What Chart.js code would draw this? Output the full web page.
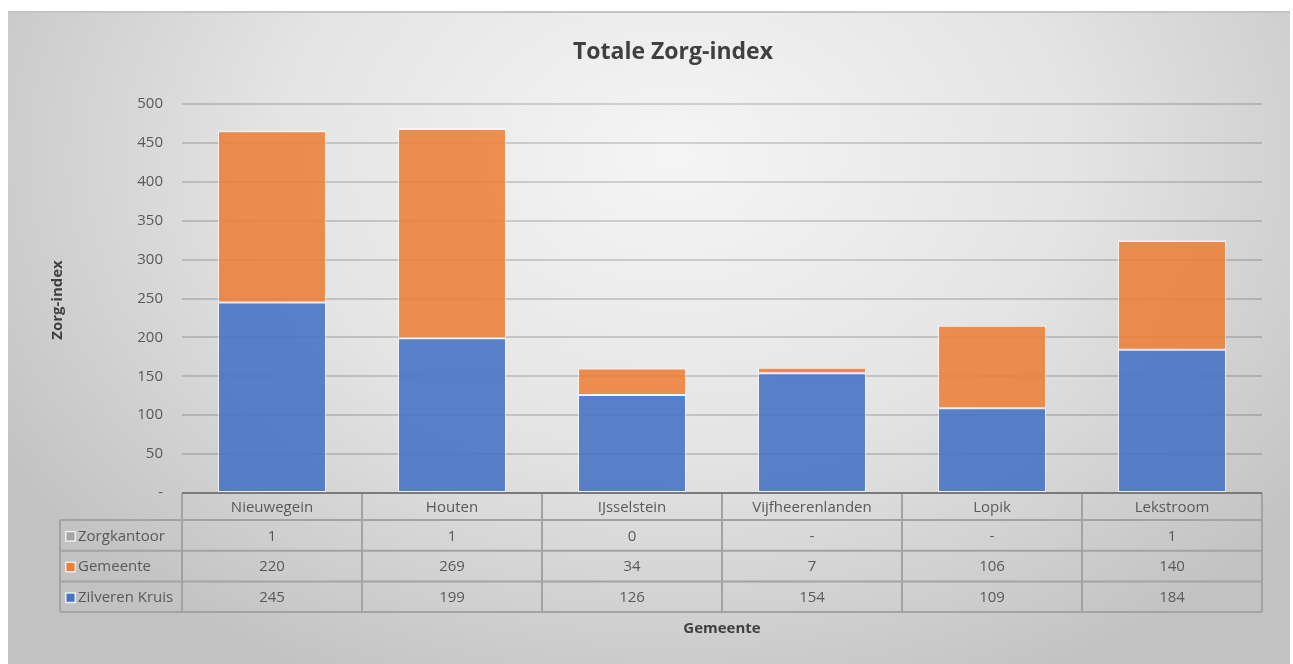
<!DOCTYPE html>
<html>
<head>
<meta charset="utf-8">
<script src="https://cdn.jsdelivr.net/npm/chart.js@4/dist/chart.umd.min.js"></script>
<style>
  html, body { margin: 0; padding: 0; background: #fff; }
  .frame {
    position: absolute; left: 8px; top: 11px; width: 1282px; height: 653px;
    background: radial-gradient(ellipse 62% 90% at 52% 22%, #f5f5f5 0%, #e4e4e4 50%, #c2c2c2 100%);
    border-top: 2px solid #c4c4c4;
  }
  .wrap { position: absolute; left: 0; top: 0; width: 1293px; height: 664px; }
</style>
</head>
<body>
<div class="frame"></div>
<div class="wrap"><canvas id="zorgChart"></canvas></div>
<script>
// ── Data ──
const gemeenten = ['Nieuwegein', 'Houten', 'IJsselstein', 'Vijfheerenlanden', 'Lopik', 'Lekstroom'];
const zilverenKruis = [245, 199, 126, 154, 109, 184];
const gemeente = [220, 269, 34, 7, 106, 140];
const zorgkantoor = [1, 1, 0.4, null, null, 1];
const yTicks = [0, 50, 100, 150, 200, 250, 300, 350, 400, 450, 500];

const FONT = "'Open Sans', 'Noto Sans', sans-serif";
const TEXT = '#595959';

function fmt(v) {
  return v === null || v === undefined ? '-' : String(Math.round(v));
}

// ── Title + data table under the plot ──
const tablePlugin = {
  id: 'dataTable',
  afterDraw(chart) {
    const { ctx, chartArea } = chart;
    const x = chart.scales.x;
    const n = gemeenten.length;
    const cw = (x.right - x.left) / n;
    const top = chartArea.bottom;
    const headH = 27, rowH = 30.7;
    const legLeft = 60;
    const rows = [...chart.data.datasets].reverse();

    ctx.save();
    // title
    ctx.fillStyle = '#404040';
    ctx.font = 'bold 23px ' + FONT;
    ctx.textAlign = 'center';
    ctx.textBaseline = 'middle';
    ctx.fillText('Totale Zorg-index', 673, 52);

    // table lines
    ctx.strokeStyle = '#a3a3a3';
    ctx.lineWidth = 2;
    const bottom = top + headH + rowH * rows.length;
    ctx.beginPath();
    for (let r = 1; r <= rows.length; r++) {
      const y = top + headH + rowH * (r - 1);
      ctx.moveTo(legLeft, y); ctx.lineTo(x.right, y);
    }
    ctx.moveTo(legLeft, bottom); ctx.lineTo(x.right, bottom);
    ctx.moveTo(legLeft, top + headH); ctx.lineTo(legLeft, bottom);
    for (let i = 0; i <= n; i++) {
      const xx = x.left + cw * i;
      ctx.moveTo(xx, top); ctx.lineTo(xx, bottom);
    }
    ctx.stroke();

    // axis line
    ctx.strokeStyle = '#7a7a7a';
    ctx.beginPath();
    ctx.moveTo(x.left, top); ctx.lineTo(x.right, top);
    ctx.stroke();

    ctx.font = '15px ' + FONT;
    ctx.fillStyle = TEXT;
    // header
    gemeenten.forEach((g, i) => {
      ctx.fillText(g, x.getPixelForValue(i), top + headH / 2 + 1);
    });
    // rows
    rows.forEach((ds, r) => {
      const cy = top + headH + rowH * r + rowH / 2 + 1;
      ctx.fillStyle = 'rgba(255,255,255,0.7)';
      ctx.fillRect(legLeft + 5, cy - 5.5, 11, 11);
      ctx.fillStyle = ds.swatch;
      ctx.fillRect(legLeft + 6.5, cy - 4, 8, 8);
      ctx.fillStyle = TEXT;
      ctx.textAlign = 'left';
      ctx.fillText(ds.label, legLeft + 18, cy);
      ctx.textAlign = 'center';
      ds.data.forEach((v, i) => ctx.fillText(fmt(v), x.getPixelForValue(i), cy));
    });

    // axis titles
    ctx.fillStyle = '#404040';
    ctx.font = 'bold 15px ' + FONT;
    ctx.fillText('Gemeente', (x.left + x.right) / 2, 629);
    ctx.translate(58, 300);
    ctx.rotate(-Math.PI / 2);
    ctx.fillText('Zorg-index', 0, 0);
    ctx.restore();
  }
};

new Chart(document.getElementById('zorgChart'), {
  type: 'bar',
  data: {
    labels: gemeenten,
    datasets: [
      { label: 'Zilveren Kruis', data: zilverenKruis, backgroundColor: 'rgba(68,114,196,0.88)', swatch: '#4472c4' },
      { label: 'Gemeente', data: gemeente, backgroundColor: 'rgba(237,125,49,0.85)', swatch: '#ed7d31' },
      { label: 'Zorgkantoor', data: zorgkantoor, backgroundColor: 'rgba(165,165,165,0.9)', swatch: '#a5a5a5' }
    ]
  },
  options: {
    responsive: true,
    maintainAspectRatio: false,
    animation: false,
    layout: { padding: { left: 0, right: 31, top: 104, bottom: 0 } },
    datasets: {
      bar: {
        categoryPercentage: 0.6,
        barPercentage: 1,
        borderColor: 'rgba(255,255,255,0.65)',
        borderWidth: 1,
        borderSkipped: false
      }
    },
    plugins: {
      legend: { display: false },
      title: { display: false },
      tooltip: { enabled: false }
    },
    scales: {
      x: {
        stacked: true,
        grid: { display: false, drawTicks: false },
        border: { display: false },
        ticks: { display: false },
        afterFit: s => { s.height = 171; }
      },
      y: {
        stacked: true,
        min: 0,
        max: 500,
        afterBuildTicks: s => { s.ticks = yTicks.map(v => ({ value: v })); },
        grid: { color: 'rgba(0,0,0,0.15)', lineWidth: 2, drawTicks: false },
        border: { display: false },
        ticks: {
          padding: 19,
          color: TEXT,
          font: { family: FONT, size: 15 },
          callback: v => v === 0 ? '-' : v
        },
        afterFit: s => { s.width = 182; }
      }
    }
  },
  plugins: [tablePlugin]
});
</script>
</body>
</html>
